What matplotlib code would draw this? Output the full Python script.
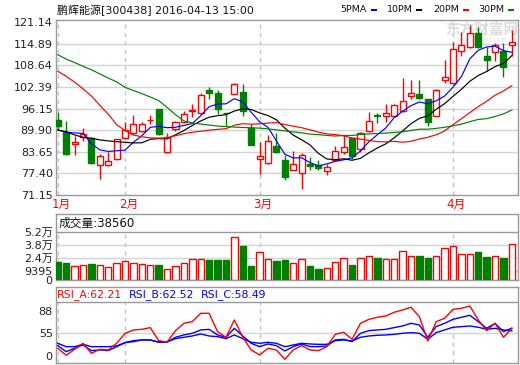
import matplotlib
matplotlib.use('Agg')
import matplotlib.pyplot as plt
from matplotlib.patches import Rectangle

plt.rcParams['font.family'] = ['DejaVu Sans', 'Noto Sans CJK SC']

# ---------------- data ----------------
title = "鹏辉能源[300438] 2016-04-13 15:00"
month_labels = ["1月", "2月", "3月", "4月"]
month_index = [0, 8, 24, 47]

opens = [92.92, 89.29, 85.95, 87.86, 87.57, 79.74, 79.74, 81.46, 87.57, 89.10,
         89.68, 92.73, 95.98, 83.56, 90.25, 92.35, 95.50, 94.83, 101.61, 100.56,
         95.02, 100.47, 100.85, 90.44, 81.65, 80.51, 85.28, 81.37, 78.50, 77.64,
         80.22, 79.93, 78.12, 81.17, 83.56, 87.57, 84.52, 89.58, 94.16, 93.88,
         93.88, 95.50, 99.90, 100.28, 98.84, 94.07, 104.38, 103.43, 112.69, 113.90,
         117.95, 111.45, 112.40, 112.97, 114.50]
highs = [95.20, 92.54, 88.15, 90.44, 88.05, 83.08, 83.56, 87.48, 92.16, 94.26,
         92.35, 94.26, 96.00, 89.10, 92.64, 95.50, 97.41, 100.56, 102.47, 101.42,
         95.02, 103.62, 103.14, 91.68, 86.43, 88.53, 89.10, 82.61, 83.75, 83.37,
         82.13, 81.17, 80.22, 85.28, 88.53, 87.57, 89.29, 95.21, 94.74, 97.41,
         97.41, 105.05, 104.57, 104.38, 99.03, 101.71, 110.30, 115.56, 118.40, 120.33,
         119.76, 114.10, 115.09, 115.09, 118.90]
lows = [90.25, 82.80, 82.80, 86.90, 80.20, 75.73, 79.55, 81.17, 87.38, 88.91,
        89.29, 91.68, 88.53, 83.37, 89.77, 92.16, 93.59, 94.64, 99.00, 94.55,
        91.00, 100.28, 93.88, 85.76, 77.16, 80.22, 83.37, 75.44, 78.31, 72.87,
        78.31, 78.31, 76.88, 80.98, 83.08, 81.46, 83.56, 89.48, 91.87, 92.16,
        93.79, 95.21, 98.84, 99.03, 91.20, 93.88, 103.62, 103.14, 111.45, 113.65,
        113.65, 106.95, 109.82, 105.35, 111.45]
closes = [91.20, 83.09, 86.43, 88.91, 80.32, 82.32, 80.89, 87.29, 89.87, 91.78,
          91.78, 92.92, 88.82, 87.86, 92.35, 94.45, 95.79, 100.18, 100.75, 96.17,
          94.74, 103.33, 95.50, 85.76, 82.42, 86.71, 83.56, 76.40, 80.22, 82.80,
          79.55, 78.98, 79.26, 83.85, 84.99, 82.42, 89.10, 92.45, 93.97, 94.74,
          97.32, 98.46, 100.56, 99.23, 92.35, 101.42, 105.34, 113.46, 114.60, 117.95,
          113.90, 110.10, 114.60, 108.21, 115.37]

ma5 = [89.96, 89.29, 89.10, 89.00, 85.99, 84.21, 83.77, 83.95, 84.14, 86.43,
       88.32, 90.73, 91.03, 90.63, 90.75, 91.28, 91.85, 94.13, 96.70, 97.47,
       97.53, 99.03, 98.10, 95.10, 92.35, 90.74, 86.79, 82.97, 81.86, 81.94,
       80.51, 79.59, 80.16, 80.89, 81.33, 81.90, 83.92, 86.56, 88.59, 90.54,
       93.52, 95.39, 97.01, 98.06, 97.58, 98.40, 99.78, 102.36, 105.43, 110.55,
       113.05, 114.00, 114.23, 112.95, 112.44]
ma10 = [89.96, 89.48, 88.53, 87.86, 87.57, 87.10, 86.80, 86.60, 86.40, 86.21,
        86.27, 87.25, 87.49, 87.39, 88.59, 89.80, 91.29, 92.58, 93.67, 94.11,
        94.40, 95.44, 96.11, 95.90, 94.91, 94.14, 92.91, 90.53, 88.48, 87.14,
        85.63, 83.19, 81.57, 81.38, 81.63, 81.20, 81.76, 83.36, 84.74, 85.93,
        87.71, 89.66, 91.79, 93.32, 94.06, 95.96, 97.58, 99.69, 101.75, 104.07,
        105.73, 106.89, 108.30, 109.19, 111.50]
ma20 = [106.96, 105.53, 103.81, 101.90, 99.80, 97.12, 94.55, 91.50, 89.80, 88.50,
        88.00, 87.70, 87.60, 87.70, 88.30, 88.90, 89.30, 89.60, 89.90, 90.16,
        90.34, 91.35, 91.80, 91.64, 91.75, 91.97, 92.10, 91.56, 91.07, 90.63,
        90.01, 89.32, 88.84, 88.64, 88.27, 87.67, 87.33, 86.95, 86.61, 86.54,
        86.67, 86.42, 86.68, 87.35, 87.85, 88.58, 89.67, 91.52, 93.24, 95.00,
        96.72, 98.27, 100.04, 101.26, 102.78]
ma30 = [111.74, 110.50, 109.50, 108.40, 107.40, 106.20, 105.00, 103.90, 102.30, 101.40,
        100.50, 99.50, 98.50, 96.50, 94.40, 92.60, 92.00, 91.70, 91.40, 91.10,
        90.95, 90.80, 90.70, 90.60, 90.50, 90.30, 90.00, 89.70, 89.40, 89.15,
        88.77, 88.63, 88.39, 88.22, 88.38, 88.38, 88.65, 88.83, 88.96, 89.06,
        89.25, 89.43, 89.82, 90.20, 90.20, 90.43, 90.75, 91.19, 91.66, 92.38,
        93.02, 93.25, 93.88, 94.63, 95.73]

volumes = [19000, 18000, 15000, 16100, 17600, 16100, 14300, 18700, 20900, 18700,
           17600, 16500, 16500, 12100, 15000, 18700, 23100, 23100, 21300, 22000,
           21300, 46900, 36300, 14700, 30100, 22700, 20900, 22000, 18700, 22700,
           15400, 12100, 12800, 19800, 23800, 16500, 23800, 26000, 24200, 22700,
           22700, 31500, 26000, 26400, 24200, 26000, 34800, 37000, 28200, 28200,
           30800, 25300, 26000, 24200, 38560]

rsi_a = [33.1, 22.9, 31.6, 40.4, 25.8, 31.6, 30.7, 40.4, 55.0, 59.9,
         60.8, 63.3, 44.3, 42.3, 58.9, 69.6, 72.0, 84.2, 84.2, 57.4,
         49.2, 74.5, 49.2, 30.7, 23.4, 33.1, 30.7, 17.0, 30.7, 37.0,
         30.7, 29.7, 35.5, 53.5, 56.5, 46.2, 69.6, 75.4, 78.4, 80.3,
         85.7, 89.1, 93.0, 79.3, 43.8, 72.0, 76.9, 90.0, 91.5, 94.9,
         74.5, 58.9, 69.6, 49.2, 62.21]
rsi_b = [37.0, 28.2, 33.1, 38.0, 29.7, 30.7, 29.7, 35.5, 41.4, 44.3,
         45.3, 45.3, 41.9, 42.3, 49.2, 52.6, 55.0, 59.9, 60.8, 52.6,
         49.2, 62.3, 51.1, 40.4, 35.5, 39.4, 37.0, 29.2, 35.5, 39.4,
         35.5, 35.5, 36.5, 45.3, 46.2, 42.8, 55.0, 58.9, 59.9, 60.8,
         63.3, 65.7, 69.6, 67.2, 49.2, 64.7, 69.6, 75.4, 78.4, 81.3,
         72.0, 62.3, 69.6, 57.4, 62.52]
rsi_c = [40.4, 35.5, 35.5, 38.9, 35.5, 35.5, 35.5, 36.5, 41.4, 42.8,
         45.3, 45.3, 42.3, 42.3, 47.2, 49.2, 51.1, 54.0, 51.1, 50.1,
         47.2, 52.6, 47.2, 41.9, 40.4, 41.9, 40.4, 35.5, 38.0, 40.4,
         39.4, 38.9, 38.9, 44.3, 45.3, 43.8, 49.2, 51.1, 52.1, 52.6,
         53.5, 55.0, 56.0, 55.0, 46.2, 56.0, 59.9, 63.8, 64.7, 65.7,
         63.8, 60.8, 62.3, 59.9, 58.49]

price_ticks = [71.15, 77.40, 83.65, 89.90, 96.15, 102.39, 108.64, 114.89, 121.14]
vol_ticks = [0, 9395, 24000, 38000, 52000]
vol_tick_labels = ["0", "9395", "2.4万", "3.8万", "5.2万"]
rsi_ticks = [22.2, 55, 88]
rsi_tick_labels = ["0", "55", "88"]

ma_names = ["5PMA", "10PM", "20PM", "30PM"]

# ---------------- styling ----------------
W, H = 520, 365
RED = '#ff0000'
GREEN = '#008000'
BLUE = '#0000ff'
GRID = '#d4d4d4'
BORDER = '#999999'
DASH = '#c4c4c4'
ma_colors = [BLUE, '#000000', RED, GREEN]

fig = plt.figure(figsize=(W / 100, H / 100), dpi=100)
fig.patch.set_facecolor('white')


def px_axes(l, t, r, b):
    return fig.add_axes([l / W, 1 - b / H, (r - l) / W, (b - t) / H])


def fx(px):
    return px / W


def fy(py):
    return 1 - py / H


n = len(closes)
xs = list(range(n))
XL = (-0.27, 54.73)
LEFT, RIGHT = 55.5, 518


def style(ax):
    for s in ax.spines.values():
        s.set_color(BORDER)
        s.set_linewidth(1)
    ax.set_xticks([])
    ax.tick_params(axis='y', length=0, pad=2, labelsize=8, labelcolor='#222222')
    ax.set_xlim(*XL)


# ---------------- main price chart ----------------
ax = px_axes(LEFT, 20, RIGHT, 195)
style(ax)
ax.set_ylim(71.15, 121.8)
ax.set_yticks(price_ticks)
ax.set_yticklabels([f"{t:.2f}" for t in price_ticks])
for t in price_ticks[1:-1]:
    ax.axhline(t, color=GRID, lw=1, zorder=0)
for m in month_index:
    ax.axvline(m, color=DASH, lw=1, ls=(0, (3, 3)), zorder=0)

ax.text(fx(482), fy(30), "东方财富网", transform=fig.transFigure, fontsize=10.5,
        fontweight='bold', color='#dcdcdc', ha='center', va='center', zorder=0.5,
        family=['Noto Sans CJK SC'])
ax.text(fx(482), fy(40), "eastmoney.com", transform=fig.transFigure, fontsize=4.5,
        color='#e0e0e0', ha='center', va='center', zorder=0.5)

up = [c >= o for o, c in zip(opens, closes)]
for i in range(n):
    col = RED if up[i] else GREEN
    ax.vlines(i, lows[i], highs[i], color=col, lw=1, zorder=2)
    b = min(opens[i], closes[i])
    h = max(abs(closes[i] - opens[i]), 0.12)
    ax.add_patch(Rectangle((i - 0.36, b), 0.72, h, facecolor='white' if up[i] else col,
                           edgecolor=col, lw=1, zorder=3))

for series, col in zip([ma5, ma10, ma20, ma30], ma_colors):
    ax.plot(xs, series, color=col, lw=0.85, zorder=4)

# title and legend
fig.text(fx(57), fy(10), title, fontsize=7.9, color='#111111', ha='left', va='center')
legend_text_x = [340, 387, 433, 478]
legend_mark_x = [371, 416, 463, 508]
for name, col, tx, mx in zip(ma_names, ma_colors, legend_text_x, legend_mark_x):
    fig.text(fx(tx), fy(10), name, fontsize=6.8, color='#111111', ha='left', va='center')
    fig.patches.append(Rectangle((fx(mx), fy(11)), fx(6), 2 / H, transform=fig.transFigure,
                                 facecolor=col, edgecolor='none'))

# month labels
for lab, m in zip(month_labels, month_index):
    xpix = 58.3 + 8.4 * m + 3
    fig.text(fx(xpix), fy(204.5), lab, fontsize=8.5, color=RED, ha='center', va='center')

# ---------------- volume ----------------
VTOP = 52000 * 66 / 48
axv = px_axes(LEFT, 214, RIGHT, 280)
style(axv)
axv.set_ylim(0, VTOP)
axv.set_yticks(vol_ticks)
axv.set_yticklabels(vol_tick_labels)
for t in vol_ticks[1:4]:
    axv.axhline(t, color=GRID, lw=1, zorder=0)
axv.axhline(vol_ticks[4], color=BORDER, lw=1, zorder=1)
for m in month_index:
    axv.vlines(m, 0, vol_ticks[4], color=DASH, lw=1, linestyles=(0, (3, 3)), zorder=0)
for i in range(n):
    col = RED if up[i] else GREEN
    axv.add_patch(Rectangle((i - 0.38, 0), 0.76, volumes[i],
                            facecolor='white' if up[i] else col, edgecolor=col,
                            lw=1, zorder=3))
axv.text(0.006, 1 - 9 / 66, f"成交量:{volumes[-1]}", transform=axv.transAxes,
         fontsize=8.5, color='#111111', ha='left', va='center')

# ---------------- RSI ----------------
RB, RT = 11.2, 122.6
RSEP = 101.1
axr = px_axes(LEFT, 287, RIGHT, 363.3)
style(axr)
axr.set_ylim(RB, RT)
axr.set_yticks(rsi_ticks)
axr.set_yticklabels(rsi_tick_labels)
axr.axhline(55, color=GRID, lw=1, zorder=0)
axr.axhline(RSEP, color=BORDER, lw=1, zorder=1)
for m in month_index:
    axr.vlines(m, RB, RSEP, color=DASH, lw=1, linestyles=(0, (3, 3)), zorder=0)
axr.plot(xs, rsi_c, color=BLUE, lw=1, zorder=3)
axr.plot(xs, rsi_b, color=BLUE, lw=1, zorder=3)
axr.plot(xs, rsi_a, color=RED, lw=1, zorder=4)
hy = fy(294.5)
fig.text(fx(57), hy, f"RSI_A:{rsi_a[-1]:.2f}", fontsize=7.8, color=RED, ha='left', va='center')
fig.text(fx(129), hy, f"RSI_B:{rsi_b[-1]:.2f}", fontsize=7.8, color=BLUE, ha='left', va='center')
fig.text(fx(201), hy, f"RSI_C:{rsi_c[-1]:.2f}", fontsize=7.8, color=BLUE, ha='left', va='center')

fig.savefig('out.png', dpi=100, facecolor='white')
